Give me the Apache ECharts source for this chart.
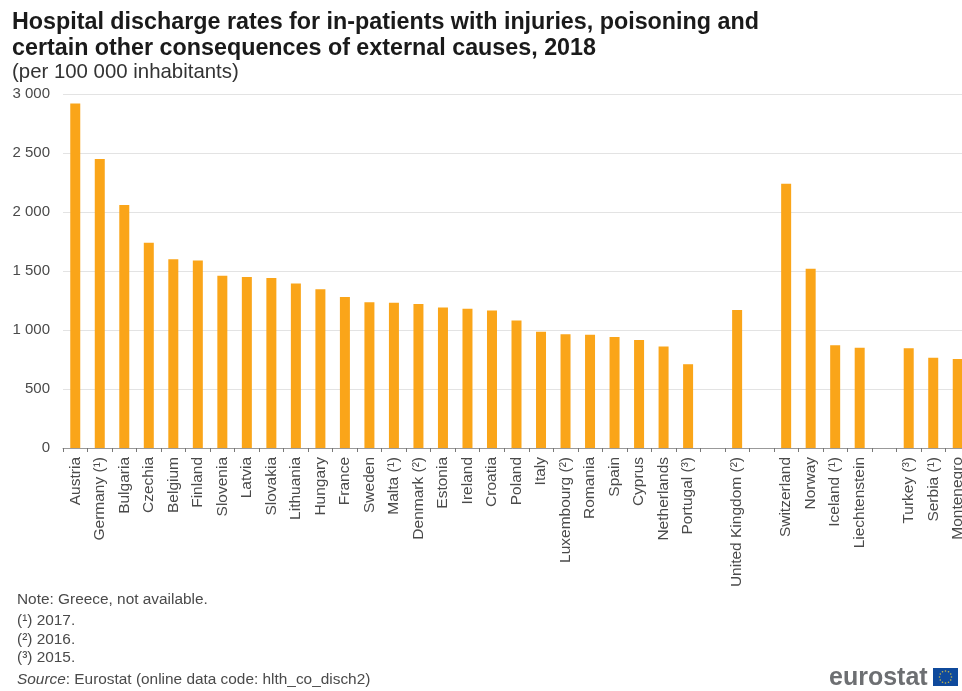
<!DOCTYPE html>
<html>
<head>
<meta charset="utf-8">
<style>html,body{margin:0;padding:0;background:#fff}#chart{width:962px;height:691px;overflow:hidden}</style>
<script src="https://cdn.jsdelivr.net/npm/echarts@6/dist/echarts.min.js"></script>
</head>
<body>
<div id="chart"></div>
<script>
// Hospital discharges by country; blank entries separate the country groups.
const categories = ['Austria','Germany (¹)','Bulgaria','Czechia','Belgium','Finland','Slovenia','Latvia','Slovakia','Lithuania','Hungary','France','Sweden','Malta (¹)','Denmark (²)','Estonia','Ireland','Croatia','Poland','Italy','Luxembourg (²)','Romania','Spain','Cyprus','Netherlands','Portugal (³)','','United Kingdom (²)',' ','Switzerland','Norway','Iceland (¹)','Liechtenstein','  ','Turkey (³)','Serbia (¹)','Montenegro'];
const rates = [2920,2450,2060,1740,1600,1590,1460,1450,1440,1395,1345,1280,1235,1230,1220,1190,1180,1165,1080,985,965,960,940,915,860,710,null,1170,null,2240,1520,870,850,null,845,765,755];
const yTicks = { min: 0, max: 3000, step: 500 };
const titleLines = 'Hospital discharge rates for in-patients with injuries, poisoning and\ncertain other consequences of external causes, 2018';
const unitLine = '(per 100 000 inhabitants)';
const noteLines = [
  ['Note: Greece, not available.', 600],
  ['(¹) 2017.', 621],
  ['(²) 2016.', 640],
  ['(³) 2015.', 658]
];

const FONT = '"Liberation Sans", Arial, sans-serif';
const TEXT = '#4a4a4a';
const noteText = noteLines.map(([text, y]) => ({
  type: 'text', left: 17, top: y - 8,
  style: { text, font: '15.4px ' + FONT, fill: TEXT }
}));

// Flag stars sit on a circle inside the blue rectangle.
const starAngles = [0,30,60,90,120,150,180,210,240,270,300,330];
const flagStars = starAngles.map(a => ({
  type: 'circle',
  shape: { cx: 945.5 + 6 * Math.cos(a * Math.PI / 180), cy: 677 + 6 * Math.sin(a * Math.PI / 180), r: 0.8 },
  style: { fill: '#c9b94a' }
}));

const chart = echarts.init(document.getElementById('chart'), null, { renderer: 'canvas' });
chart.setOption({
  animation: false,
  backgroundColor: '#fff',
  title: {
    text: titleLines, left: 7, top: 5,
    textStyle: { fontFamily: FONT, fontWeight: 'bold', fontSize: 23.3, lineHeight: 26, color: '#1a1a1a' }
  },
  // The last column runs past the right edge of the canvas.
  grid: { left: 63, width: 907, top: 94, height: 354, outerBoundsMode: 'none' },
  xAxis: {
    type: 'category',
    data: categories,
    axisLine: { lineStyle: { color: '#999', width: 1 } },
    axisTick: { show: true, alignWithLabel: false, length: 4, lineStyle: { color: '#777' } },
    axisLabel: { interval: 0, rotate: 90, fontFamily: FONT, fontSize: 15.5, color: TEXT, margin: 9, hideOverlap: false }
  },
  yAxis: {
    type: 'value',
    min: yTicks.min, max: yTicks.max, interval: yTicks.step,
    axisLine: { show: false },
    axisTick: { show: false },
    splitLine: { lineStyle: { color: '#e3e3e3', width: 1 } },
    axisLabel: {
      fontFamily: FONT, fontSize: 15, color: TEXT, margin: 13,
      formatter: v => String(v).replace(/\B(?=(\d{3})+$)/g, ' ')
    }
  },
  series: [{
    type: 'bar', data: rates, barWidth: 10,
    itemStyle: { color: '#faa519' }
  }],
  graphic: [
    { type: 'text', left: 12, top: 62, style: { text: unitLine, font: '20.4px ' + FONT, fill: '#333' } },
    ...noteText,
    { type: 'text', left: 17, top: 672, style: {
        rich: { i: { font: 'italic 15.4px ' + FONT, fill: TEXT }, n: { font: '15.4px ' + FONT, fill: TEXT } },
        text: '{i|Source}{n|: Eurostat (online data code: hlth_co_disch2)}'
    } },
    { type: 'text', left: 829, top: 666, style: { text: 'eurostat', font: 'bold 25px ' + FONT, fill: '#6d6f72' } },
    { type: 'rect', shape: { x: 933, y: 668, width: 25, height: 18 }, style: { fill: '#0f4a9c' } },
    ...flagStars
  ]
});
</script>
</body>
</html>
